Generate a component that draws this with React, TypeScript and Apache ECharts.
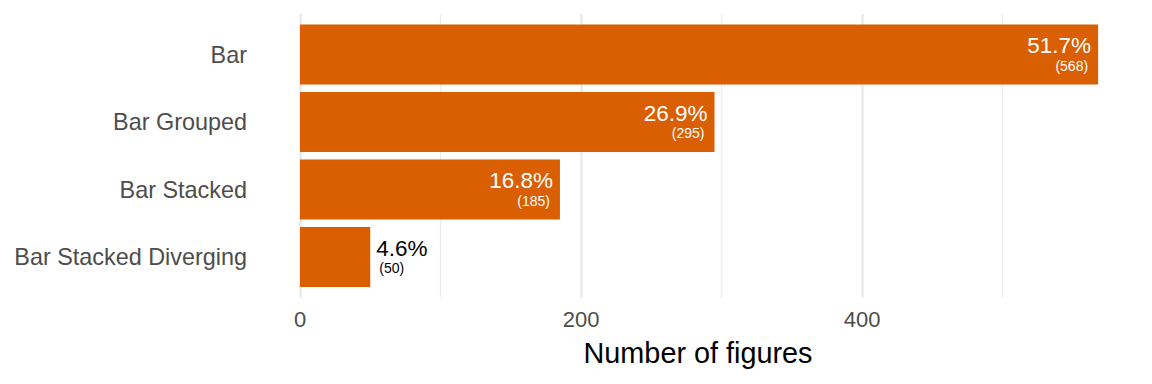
import React, { useEffect, useRef } from "react";
import * as echarts from "echarts";

const categories = ["Bar", "Bar Grouped", "Bar Stacked", "Bar Stacked Diverging"];
const counts = [568, 295, 185, 50];
const percentLabels = ["51.7%", "26.9%", "16.8%", "4.6%"];
const insideFlags = [true, true, true, false];
const xTicksMajor = [0, 200, 400];

const FONT = "'Liberation Sans', Arial, Helvetica, sans-serif";
const BAR_COLOR = "#d95f02";
const X_MAX = 596.4;

export default function App() {
  const ref = useRef<HTMLDivElement>(null);

  useEffect(() => {
    document.body.style.margin = "0";
    if (!ref.current) return;
    const chart = echarts.init(ref.current, undefined, { renderer: "svg" });

    const data = counts.map((v, i) => {
      const inside = insideFlags[i];
      return {
        value: v,
        label: {
          show: true,
          position: inside ? "insideRight" : "right",
          distance: inside ? 7 : 6,
          formatter: `{p|${percentLabels[i]}}\n{c|(${v})}`,
          align: inside ? "right" : "left",
          rich: {
            p: {
              fontSize: 22.5,
              lineHeight: 22,
              fontFamily: FONT,
              color: inside ? "#ffffff" : "#000000",
              align: inside ? "right" : "left",
            },
            c: {
              fontSize: 14,
              lineHeight: 18,
              fontFamily: FONT,
              color: inside ? "#ffffff" : "#000000",
              align: inside ? "right" : "left",
              padding: inside ? [0, 3, 0, 0] : [0, 0, 0, 3],
            },
          },
        },
      };
    });

    chart.setOption({
      animation: false,
      grid: [
        { left: 300, right: 14, top: 20.75, height: 270, containLabel: false },
        { left: 300, right: 14, top: 14, height: 283.5, containLabel: false },
      ],
      xAxis: [
        {
          type: "value",
          gridIndex: 0,
          min: 0,
          max: X_MAX,
          show: false,
          splitLine: { show: false },
        },
        {
          type: "value",
          gridIndex: 1,
          min: 0,
          max: X_MAX,
          interval: 200,
          axisLine: { show: false },
          axisTick: { show: false },
          splitLine: {
            show: true,
            showMaxLine: false,
            lineStyle: { color: "#ebebeb", width: 2.5 },
          },
          axisLabel: {
            show: true,
            margin: 11,
            fontSize: 22,
            fontFamily: FONT,
            color: "#4d4d4d",
            showMaxLabel: false,
            formatter: (v: number) => (xTicksMajor.includes(v) ? String(v) : ""),
          },
        },
        {
          type: "value",
          gridIndex: 1,
          min: 0,
          max: X_MAX,
          interval: 100,
          axisLine: { show: false },
          axisTick: { show: false },
          axisLabel: { show: false },
          splitLine: {
            show: true,
            showMaxLine: false,
            lineStyle: { color: "#ebebeb", width: 1.2 },
          },
        },
      ],
      yAxis: [
        {
          type: "category",
          gridIndex: 0,
          data: categories,
          inverse: true,
          axisLine: { show: false },
          axisTick: { show: false },
          splitLine: { show: false },
          axisLabel: {
            margin: 53,
            fontSize: 23.4,
            fontFamily: FONT,
            color: "#4d4d4d",
          },
        },
        {
          type: "value",
          gridIndex: 1,
          min: 0,
          max: 1,
          show: false,
          splitLine: { show: false },
        },
      ],
      graphic: [
        {
          type: "text",
          x: 698,
          y: 353,
          style: {
            text: "Number of figures",
            fontSize: 28.8,
            fontFamily: FONT,
            fill: "#000000",
            textAlign: "center",
            textVerticalAlign: "middle",
          },
        },
      ],
      series: [
        {
          type: "bar",
          xAxisIndex: 0,
          yAxisIndex: 0,
          data,
          barWidth: 60,
          itemStyle: { color: BAR_COLOR },
        },
      ],
    });

    return () => chart.dispose();
  }, []);

  return <div ref={ref} style={{ width: 1152, height: 384 }} />;
}
